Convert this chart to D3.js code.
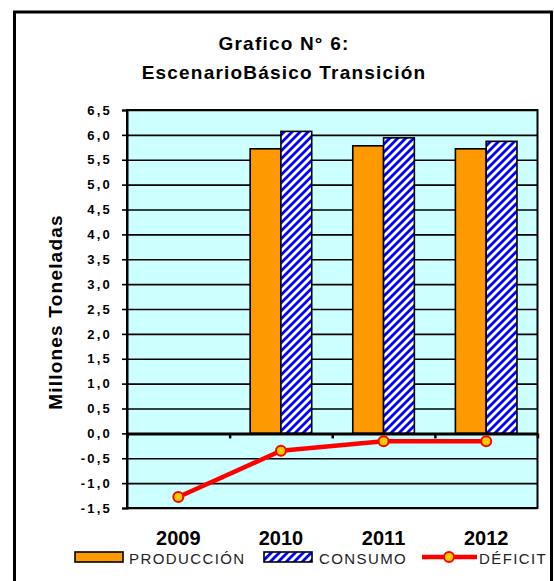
<!DOCTYPE html>
<html><head><meta charset="utf-8">
<script src="https://cdn.jsdelivr.net/npm/d3@7"></script>
<style>body{margin:0;background:#fff}svg{display:block}text{font-family:"Liberation Sans",Arial,sans-serif}</style>
</head><body><svg id="c" width="554" height="581"></svg>
<script>
const years = ["2009", "2010", "2011", "2012"];
const produccion = [null, 5.72, 5.78, 5.72];
const consumo = [null, 6.07, 5.94, 5.87];
const deficit = [-1.28, -0.35, -0.16, -0.16];
const yTicks = [-1.5, -1.0, -0.5, 0, 0.5, 1.0, 1.5, 2.0, 2.5, 3.0, 3.5, 4.0, 4.5, 5.0, 5.5, 6.0, 6.5];
const titleLines = ["Grafico N° 6:", "EscenarioBásico Transición"];
const yTitle = "Millones Toneladas";
const legendLabels = ["PRODUCCIÓN", "CONSUMO", "DÉFICIT"];

const svg = d3.select("#c");
const L = 127, R = 537.5, T = 110, B = 508;
const x = d3.scaleBand().domain(years).range([L, R]);
const bw = x.bandwidth();
const xs = d3.scaleBand().domain(["p", "c"]).range([bw * 0.2, bw * 0.8]);
const xb = d3.scaleLinear().domain([0, years.length]).range([L, R]);
const y = d3.scaleLinear().domain([-1.5, 6.5]).range([B, T]);
const fmt = v => d3.format(".1f")(v).replace(".", ",").replace("−", "-");

const defs = svg.append("defs");
const pat = defs.append("pattern").attr("id", "hatch").attr("patternUnits", "userSpaceOnUse")
  .attr("width", 8).attr("height", 8);
pat.append("rect").attr("width", 8).attr("height", 8).attr("fill", "#fff");
pat.append("path").attr("d", "M-2,2 L2,-2 M0,8 L8,0 M6,10 L10,6")
  .attr("stroke", "#0000ff").attr("stroke-width", 2.8);

// outer border
svg.append("rect").attr("x", 14.5).attr("y", 12).attr("width", 537).attr("height", 620)
  .attr("fill", "#fff").attr("stroke", "#000").attr("stroke-width", 3);

// title
svg.append("g").selectAll("text").data(titleLines).join("text")
  .attr("x", 284).attr("y", (d, i) => 50 + i * 29)
  .attr("text-anchor", "middle").attr("font-size", 19).attr("font-weight", "bold")
  .attr("letter-spacing", 1.2).attr("fill", "#000").text(d => d);

// plot background
svg.append("rect").attr("x", L).attr("y", T).attr("width", R - L).attr("height", B - T)
  .attr("fill", "#ccffff");

// gridlines
svg.append("g").attr("transform", `translate(${L},0)`)
  .call(d3.axisLeft(y).tickValues(yTicks).tickSize(-(R - L)).tickFormat(""))
  .call(g => g.select(".domain").remove())
  .call(g => g.selectAll("line").attr("stroke", "#000").attr("stroke-width", 1.6));

// y axis
svg.append("g").attr("transform", `translate(${L},0)`)
  .call(d3.axisLeft(y).tickValues(yTicks).tickSize(5).tickPadding(10).tickFormat(fmt))
  .call(g => g.select(".domain").attr("stroke-width", 2))
  .call(g => g.selectAll("line").attr("stroke-width", 1.6))
  .call(g => g.selectAll("text").attr("font-size", 13).attr("font-weight", "bold")
    .attr("letter-spacing", 2.2).attr("fill", "#000")
    .attr("font-family", '"Liberation Sans",Arial,sans-serif'));

// bars
const barG = svg.append("g");
years.forEach((yr, i) => {
  if (produccion[i] != null) {
    barG.append("rect").attr("x", x(yr) + xs("p")).attr("width", xs.bandwidth())
      .attr("y", y(produccion[i])).attr("height", y(0) - y(produccion[i]))
      .attr("fill", "#ff9900").attr("stroke", "#000").attr("stroke-width", 1.6);
  }
  if (consumo[i] != null) {
    barG.append("rect").attr("x", x(yr) + xs("c")).attr("width", xs.bandwidth())
      .attr("y", y(consumo[i])).attr("height", y(0) - y(consumo[i]))
      .attr("fill", "url(#hatch)").attr("stroke", "#000").attr("stroke-width", 1.6);
  }
});

// plot border
svg.append("rect").attr("x", L).attr("y", T).attr("width", R - L).attr("height", B - T)
  .attr("fill", "none").attr("stroke", "#000").attr("stroke-width", 2);

// zero axis with category-boundary ticks
svg.append("g").attr("transform", `translate(0,${y(0)})`)
  .call(d3.axisBottom(xb).tickValues(d3.range(years.length + 1)).tickSize(5).tickSizeOuter(0).tickFormat(""))
  .call(g => g.select(".domain").attr("stroke-width", 3))
  .call(g => g.selectAll("line").attr("stroke-width", 2.5));

// deficit line
const line = d3.line().x((d, i) => x(years[i]) + bw / 2).y(d => y(d));
svg.append("path").datum(deficit).attr("d", line)
  .attr("fill", "none").attr("stroke", "#ff0000").attr("stroke-width", 4.5).attr("stroke-linejoin", "round");
svg.append("g").selectAll("circle").data(deficit).join("circle")
  .attr("cx", (d, i) => x(years[i]) + bw / 2).attr("cy", d => y(d)).attr("r", 5)
  .attr("fill", "#ffcc00").attr("stroke", "#ff0000").attr("stroke-width", 2);

// category labels
svg.append("g").selectAll("text").data(years).join("text")
  .attr("x", d => x(d) + bw / 2).attr("y", 545).attr("text-anchor", "middle")
  .attr("font-size", 20).attr("font-weight", "bold").attr("fill", "#000").text(d => d);

// y title
svg.append("text").attr("transform", "translate(62,312) rotate(-90)")
  .attr("text-anchor", "middle").attr("font-size", 19).attr("font-weight", "bold")
  .attr("letter-spacing", 1.2).attr("fill", "#000").text(yTitle);

// legend
const lg = svg.append("g");
lg.append("rect").attr("x", 75).attr("y", 552).attr("width", 48).attr("height", 10)
  .attr("fill", "#ff9900").attr("stroke", "#000").attr("stroke-width", 1.6);
lg.append("rect").attr("x", 264).attr("y", 552).attr("width", 48).attr("height", 10)
  .attr("fill", "url(#hatch)").attr("stroke", "#000").attr("stroke-width", 1.6);
lg.append("line").attr("x1", 422).attr("x2", 477).attr("y1", 557).attr("y2", 557)
  .attr("stroke", "#ff0000").attr("stroke-width", 4.5);
lg.append("circle").attr("cx", 449).attr("cy", 557).attr("r", 5)
  .attr("fill", "#ffcc00").attr("stroke", "#ff0000").attr("stroke-width", 2);
lg.selectAll("text.lab").data(legendLabels).join("text").attr("class", "lab")
  .attr("x", (d, i) => [129, 319, 479][i]).attr("y", 564)
  .attr("font-size", 15).attr("letter-spacing", 1.4).attr("fill", "#222").text(d => d);
</script></body></html>
